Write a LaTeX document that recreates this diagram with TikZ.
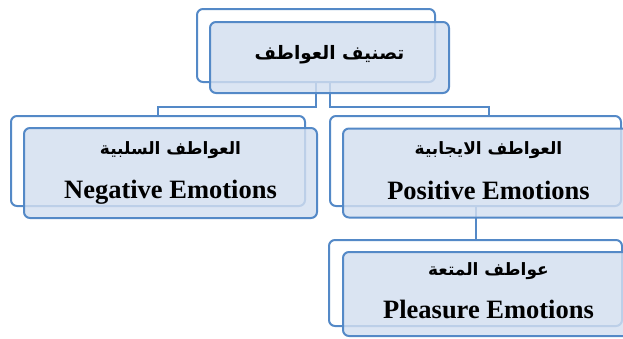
\documentclass[tikz,border=0pt]{standalone}
\usepackage{fontspec}
\setmainfont{Liberation Serif}
\newfontfamily\arabicfont[Script=Arabic]{DejaVu Sans}
\TeXXeTstate=1
\usetikzlibrary{backgrounds}
\definecolor{boxline}{RGB}{84,137,199}
\definecolor{boxfill}{RGB}{211,223,240}
\tikzset{
  backbox/.style={draw=boxline, fill=white, line width=2pt, rounded corners=6pt, inner sep=0pt},
  frontbox/.style={draw=boxline, fill=boxfill, fill opacity=0.82, line width=2pt, rounded corners=6pt, inner sep=0pt},
  conn/.style={draw=boxline, line width=2pt},
  artext/.style={font=\arabicfont\bfseries\fontsize{17}{20}\selectfont, inner sep=0pt},
  entext/.style={font=\bfseries\fontsize{26.5}{30}\selectfont, inner sep=0pt, anchor=base}
}
\begin{document}
\begin{tikzpicture}[x=1pt,y=-1pt]
\useasboundingbox (0,0) rectangle (623,338);
\coordinate (bus) at (0,107);
% back frames
\node[backbox, minimum width=238pt, minimum height=73pt] (topB) at (316,45.5) {};
\node[backbox, minimum width=294pt, minimum height=90pt] (lB) at (158,161) {};
\node[backbox, minimum width=291pt, minimum height=90pt] (rB) at (475.5,161) {};
\node[backbox, minimum width=293pt, minimum height=86pt] (bB) at (475.5,283) {};
% front boxes
\node[frontbox, minimum width=239pt, minimum height=71pt] (topF) at (329.5,57.5) {};
\node[frontbox, minimum width=293pt, minimum height=90pt] (lF) at (170.5,173) {};
\node[frontbox, minimum width=291pt, minimum height=89pt] (rF) at (488.5,173) {};
\node[frontbox, minimum width=291pt, minimum height=84pt] (bF) at (488.5,294) {};
% connectors underneath the boxes
\begin{scope}[on background layer]
\draw[conn] (topB.south) -- (topB.south |- bus) -| (lB.north);
\draw[conn] (topF.south |- topB.south) -- (topF.south |- bus) -| (rF.north);
\draw[conn] (rB.south) -- (bB.north);
\end{scope}
% texts
\node[artext, font=\arabicfont\bfseries\fontsize{18.5}{22}\selectfont] (tT) at ([yshift=2.5pt]topF.center) {\beginR تصنيف العواطف\endR};
\node[artext] (lT1) at ([yshift=23pt]lF.center) {\beginR العواطف السلبية\endR};
\node[entext] (lT2) at ([yshift=-25pt]lF.center) {Negative Emotions};
\node[artext] (rT1) at ([yshift=23pt]rF.center) {\beginR العواطف الايجابية\endR};
\node[entext] (rT2) at ([yshift=-26pt]rF.center) {Positive Emotions};
\node[artext] (bT1) at ([yshift=23pt]bF.center) {\beginR عواطف المتعة\endR};
\node[entext] (bT2) at ([yshift=-24pt]bF.center) {Pleasure Emotions};
\end{tikzpicture}
\end{document}
